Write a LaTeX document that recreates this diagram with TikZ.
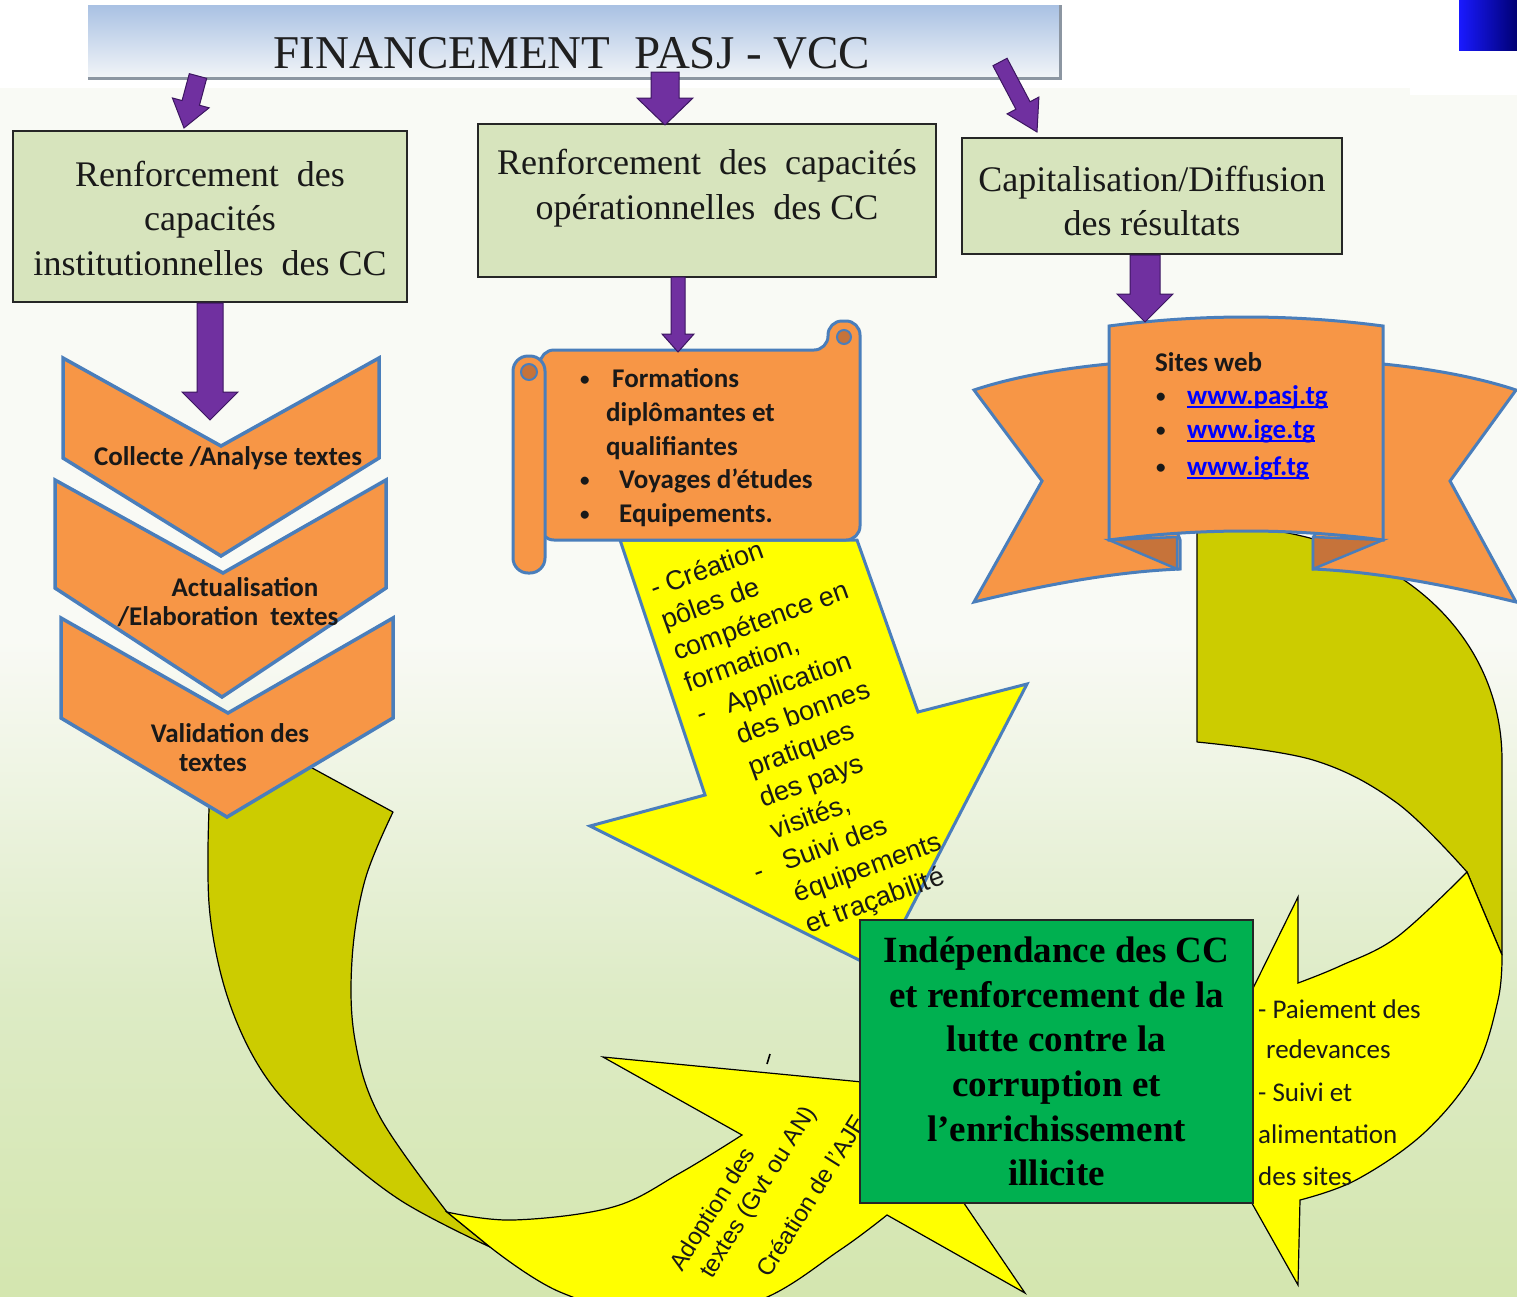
\documentclass[tikz,border=0pt]{standalone}
\usepackage{fontspec}
\setmainfont{Liberation Serif}
\newfontfamily\calib{Carlito}
\newfontfamily\arialf{Liberation Sans}
\usetikzlibrary{calc}
\definecolor{purp}{HTML}{7030A0}
\definecolor{purpd}{HTML}{3C1660}
\definecolor{boxg}{HTML}{D7E4BD}
\definecolor{orng}{HTML}{F79646}
\definecolor{orngd}{HTML}{C6733A}
\definecolor{bluebd}{HTML}{4A7EBB}
\definecolor{yel}{HTML}{FFFF00}
\definecolor{olv}{HTML}{CCCC00}
\definecolor{grn}{HTML}{00B050}
\definecolor{linkb}{HTML}{0000FF}
\definecolor{bgtop}{HTML}{F9FAF5}
\definecolor{bgmid}{HTML}{DDEBC5}
\definecolor{bgbot}{HTML}{D4E6AF}
\definecolor{titletop}{HTML}{A9C1E3}
\definecolor{titlebot}{HTML}{F2F5F8}
\definecolor{titlesh}{HTML}{8C96A2}
\newcommand\fatarrow[5]{%
  \path let \p1=(#1), \p2=(#2) in \pgfextra{%
    \pgfmathsetmacro\faang{atan2(\y2-\y1,\x2-\x1)}%
    \pgfmathsetmacro\falen{veclen(\x2-\x1,\y2-\y1)}%
    \xdef\FAang{\faang}\xdef\FAlen{\falen}};
  \begin{scope}[shift={(#1)}, rotate=\FAang]
    \draw[fatarr] (0pt,-#3pt) -- ({\FAlen pt-#5pt},-#3pt) -- ({\FAlen pt-#5pt},-#4pt)
      -- (\FAlen pt,0pt) -- ({\FAlen pt-#5pt},#4pt) -- ({\FAlen pt-#5pt},#3pt) -- (0pt,#3pt) -- cycle;
  \end{scope}}
\newcommand\smallbul{\raisebox{1.5pt}{\fontsize{19}{19}\selectfont •}}
\begin{document}
\begin{tikzpicture}[x=1pt,y=-1pt,
  fatarr/.style={fill=purp, draw=purpd, line width=1},
  graybox/.style={draw=black!85, line width=2, fill=boxg, inner sep=0},
  boxtext/.style={font={\fontsize{36}{44.5}\selectfont}, align=center, inner sep=0, text=black!90},
  chev/.style={fill=orng, draw=bluebd, line width=3.5, line join=miter},
  cbold/.style={font={\calib\bfseries\fontsize{27}{30}\selectfont}, inner sep=0, text=black!90},
  creg/.style={font={\calib\fontsize{27}{30}\selectfont}, inner sep=0, text=black!90, anchor=base west},
  scrollst/.style={fill=orng, draw=bluebd, line width=3},
  curlst/.style={fill=orngd, draw=bluebd, line width=2},
  olivest/.style={fill=olv, draw=black, line width=1.2, line join=round},
  yelst/.style={fill=yel, draw=black, line width=1.2, line join=miter},
  yelbig/.style={fill=yel, draw=bluebd, line width=3, line join=miter},
  ribst/.style={fill=orng, draw=bluebd, line width=3, line join=miter},
  foldst/.style={fill=orngd, draw=bluebd, line width=2.5, line join=miter},
  linkst/.style={font={\calib\bfseries\fontsize{27}{30}\selectfont}, inner sep=0, text=linkb, anchor=base west}
]
\useasboundingbox (0,0) rectangle (1517,1296);
% background
\fill[bgtop] (0,0) rectangle (1517,1296);
\shade[top color=bgtop, bottom color=bgmid] (0,640) rectangle (1517,1000);
\shade[top color=bgmid, bottom color=bgbot] (0,1000) rectangle (1517,1296);
\fill[white] (0,0) rectangle (1517,88);
\fill[white] (1410,0) rectangle (1517,95);
\shade[left color=blue!90!white, right color=blue!45!black] (1459,0) rectangle (1517,50);

% title
\node[top color=titletop, bottom color=titlebot, minimum width=972, minimum height=73, inner sep=0] (title) at (574,41.5) {};
\draw[titlesh, line width=3] (title.south west) -- (title.south east) -- (title.north east);
\node[anchor=base, inner sep=0, text=black!88, font={\fontsize{47}{50}\selectfont}] (titletxt) at (572,68) {FINANCEMENT\ \ PASJ - VCC};

% boxes
\node[graybox, minimum width=394, minimum height=171] (box1) at (210,216.5) {};
\node[boxtext] (box1t) at (210,218) {Renforcement\ \ des\\capacités\\institutionnelles\ \ des CC};
\node[graybox, minimum width=458, minimum height=153] (box2) at (707,200.5) {};
\node[boxtext] (box2t) at (707,188) {Renforcement\ \ des\ \ capacités\\opérationnelles\ \ des CC};
\node[graybox, minimum width=380, minimum height=116] (box3) at (1152,196) {};
\node[boxtext] (box3t) at (1152,201) {Capitalisation/Diffusion\\des résultats};

% arrow coordinates
\coordinate (aAs) at (198,76);  \coordinate (aAe) at (184,128);
\coordinate (aBs) at (665,72);  \coordinate (aBe) at (665,125);
\coordinate (aCs) at (1000,62); \coordinate (aCe) at (1037,132);
\coordinate (a4s) at (box1.south); \coordinate (a4e) at (210,420);
\coordinate (a5s) at (678,277); \coordinate (a5e) at (678,352);
\coordinate (a6s) at (1145,255); \coordinate (a6e) at (1145,322);
\fatarrow{aAs}{aAe}{9}{19}{26}
\fatarrow{aBs}{aBe}{14}{28}{27}
\fatarrow{aCs}{aCe}{8}{18}{30}
\fatarrow{a4s}{a4e}{13}{28}{28}

% left curved arrow
\draw[olivest] plot[smooth, tension=0.6] coordinates {(393,812) (365,880) (352,960) (355,1040) (380,1117) (447,1212)}
  -- (490,1247) -- plot[smooth, tension=0.6] coordinates {(490,1247) (400,1200) (323,1138) (268,1080) (232,1010) (212,930) (208,850) (213,714)}
  -- cycle;
\draw[yelst] plot[smooth, tension=0.6] coordinates {(447,1212) (513,1220) (613,1207) (680,1173) (742,1135)}
  -- (603,1057) -- (883,1084) -- (1025,1293) -- (887,1215)
  -- plot[smooth, tension=0.6] coordinates {(887,1215) (840,1250) (760,1300) (660,1318) (560,1292) (490,1247)} -- cycle;
\node[rotate=58, anchor=base west, inner sep=0, text=black!90, font={\arialf\fontsize{24}{29}\selectfont}] (adopt) at (682,1273)
 {\begin{tabular}[t]{@{}l@{}}
 Adoption des\\
 \hspace*{10pt}textes (Gvt ou AN)\\[19pt]
 \hspace*{41pt}Création de l’AJE
 \end{tabular}};
\draw[line width=1.6] (767,1064) -- (770,1054);

% chevrons
\draw[chev] (63,358) -- (221,446) -- (379,358) -- (379,458) -- (221,556) -- (63,458) -- cycle;
\draw[chev] (55,480) -- (223,573) -- (386,480) -- (386,588) -- (222,697) -- (55,588) -- cycle;
\draw[chev] (61,618) -- (228,713) -- (393,618) -- (393,718) -- (227,817) -- (61,718) -- cycle;
\node[cbold] (ch1) at (228,458) {Collecte /Analyse textes};
\node[cbold] (ch2a) at (245,587) {Actualisation};
\node[cbold] (ch2b) at (228,617) {/Elaboration\ \ textes};
\node[cbold] (ch3a) at (230,733) {Validation des};
\node[cbold] (ch3b) at (213,763) {textes};

% middle yellow arrow
\draw[yelbig] (620,540) -- (705,795) -- (590,826) -- (879,970) -- (1027,684) -- (918,712) -- (857,540) -- cycle;
\node[rotate=20, anchor=base west, inner sep=0, text=black!90, font={\arialf\fontsize{27}{33.5}\selectfont}] (ytext) at (654,598)
 {\begin{tabular}[t]{@{}l@{}l@{}}
 \multicolumn{2}{@{}l@{}}{- Création}\\
 \multicolumn{2}{@{}l@{}}{pôles de}\\
 \multicolumn{2}{@{}l@{}}{compétence en}\\
 \multicolumn{2}{@{}l@{}}{formation,}\\
 \makebox[31pt][l]{-} & Application\\
  & des bonnes\\
  & pratiques\\
  & des pays\\
  & visités,\\
 - & Suivi des\\
  & équipements\\
  & et traçabilité
 \end{tabular}};

% scroll
\draw[scrollst, rounded corners=14] (540,350) -- (828,350) -- (828,321) -- (860,321) -- (860,540) -- (540,540) -- cycle;
\draw[curlst] (844,337) circle[radius=7];
\draw[scrollst, rounded corners=15] (513,356) rectangle (545,573);
\draw[curlst] (529,372) circle[radius=8];
\node[cbold, anchor=base west] (sb1) at (580,387) {\smallbul};
\node[cbold, anchor=base west] (sc1) at (612,387) {Formations};
\node[cbold, anchor=base west] (sc2) at (606,421) {diplômantes et};
\node[cbold, anchor=base west] (sc3) at (606,455) {qualifiantes};
\node[cbold, anchor=base west] (sb4) at (580,488) {\smallbul};
\node[cbold, anchor=base west] (sc4) at (619,488) {Voyages d’études};
\node[cbold, anchor=base west] (sb5) at (580,522) {\smallbul};
\node[cbold, anchor=base west] (sc5) at (619,522) {Equipements.};
\fatarrow{a5s}{a5e}{7}{16}{18}

% right curved arrow
\draw[olivest] (1197,528) -- (1197,742) -- plot[smooth, tension=0.6] coordinates {(1197,742) (1313,760) (1397,803) (1467,872)}
  -- (1502,955) -- (1502,760) .. controls (1502,650) and (1420,555) .. (1277,531) -- cycle;

% ribbon
\draw[ribst] (1120,363) .. controls (1060,368) and (1010,378) .. (974,390) -- (1042,481) -- (974,602)
  .. controls (1040,586) and (1110,572) .. (1180,569) -- (1180,540) -- cycle;
\draw[ribst] (1372,363) .. controls (1430,368) and (1480,378) .. (1516,390) -- (1450,481) -- (1516,602)
  .. controls (1450,586) and (1380,572) .. (1313,569) -- (1313,540) -- cycle;
\draw[foldst] (1109,540) -- (1177,569) -- (1177,537) -- cycle;
\draw[foldst] (1383,540) -- (1313,569) -- (1313,537) -- cycle;
\draw[ribst] (1109,326) .. controls (1200,314) and (1292,314) .. (1383,326) -- (1383,540)
  .. controls (1292,528) and (1200,528) .. (1109,540) -- cycle;
\node[cbold, anchor=base west] (sites) at (1155,371) {Sites web};
\node[cbold, anchor=base west] (rb1) at (1156,404) {\smallbul};
\node[cbold, anchor=base west] (rb2) at (1156,438) {\smallbul};
\node[cbold, anchor=base west] (rb3) at (1156,475) {\smallbul};
\node[linkst] (l1) at (1187,404) {www.pasj.tg};
\node[linkst] (l2) at (1187,438) {www.ige.tg};
\node[linkst] (l3) at (1187,475) {www.igf.tg};
\foreach \l in {l1,l2,l3}
  \draw[linkb, line width=1.6] ([yshift=-3]\l.base west) -- ([yshift=-3]\l.base east);
\fatarrow{a6s}{a6e}{15}{28}{28}

% right yellow
\draw[yelst] plot[smooth, tension=0.6] coordinates {(1467,872) (1397,937) (1340,966) (1298,983)}
  -- (1298,897) -- (1196,1104) -- (1298,1285) -- (1300,1200)
  -- plot[smooth, tension=0.6] coordinates {(1300,1200) (1356,1180) (1424,1133) (1475,1070) (1498,1000) (1502,955)} -- cycle;
\node[creg] (r1) at (1258,1018) {- Paiement des};
\node[creg] (r2) at (1266,1058) {redevances};
\node[creg] (r3) at (1258,1101) {- Suivi et};
\node[creg] (r4) at (1258,1143) {alimentation};
\node[creg] (r5) at (1258,1185) {des sites};

% green box
\node[draw=black!85, line width=2, fill=grn, minimum width=393, minimum height=283, inner sep=0,
  align=center, text=black, font={\bfseries\fontsize{37}{44.6}\selectfont}] (gbox) at (1056.5,1061.5)
  {Indépendance des CC\\et renforcement de la\\lutte contre la\\corruption et\\l’enrichissement\\illicite};
\end{tikzpicture}
\end{document}
